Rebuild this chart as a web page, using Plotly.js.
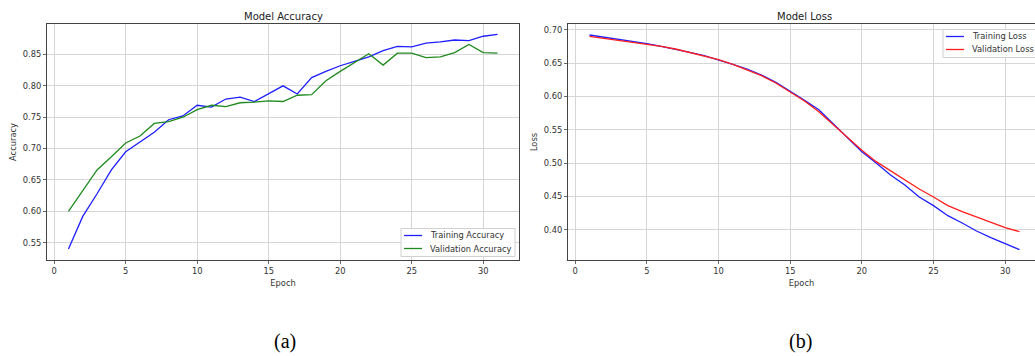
<!DOCTYPE html>
<html>
<head>
<meta charset="utf-8">
<script src="https://cdn.plot.ly/plotly-3.0.1.min.js"></script>
<style>
html,body{margin:0;padding:0;background:#fff;}
#chart{width:1035px;height:356px;}
</style>
</head>
<body>
<div id="chart"></div>
<script>
// ---- data ----
const epochs = [1,2,3,4,5,6,7,8,9,10,11,12,13,14,15,16,17,18,19,20,21,22,23,24,25,26,27,28,29,30,31];

const trainAcc = [0.540,0.592,0.628,0.666,0.695,0.711,0.726,0.746,0.752,0.769,0.766,0.779,0.782,0.775,0.788,0.800,0.787,0.813,0.823,0.832,0.839,0.846,0.856,0.863,0.862,0.868,0.870,0.873,0.872,0.879,0.882];
const valAcc   = [0.600,0.633,0.666,0.687,0.709,0.720,0.740,0.743,0.750,0.762,0.769,0.767,0.773,0.774,0.776,0.775,0.785,0.786,0.808,0.823,0.837,0.851,0.833,0.852,0.852,0.845,0.846,0.853,0.866,0.853,0.852];

const trainLoss = [0.692,0.689,0.686,0.683,0.679,0.675,0.671,0.666,0.661,0.655,0.648,0.641,0.632,0.621,0.608,0.594,0.580,0.559,0.538,0.517,0.500,0.482,0.467,0.449,0.436,0.421,0.410,0.398,0.388,0.379,0.370];
const valLoss   = [0.690,0.687,0.685,0.682,0.679,0.675,0.671,0.666,0.661,0.655,0.648,0.640,0.631,0.620,0.607,0.593,0.577,0.558,0.538,0.519,0.502,0.488,0.475,0.461,0.449,0.436,0.427,0.419,0.412,0.403,0.397];

const xTicks = [0,5,10,15,20,25,30];
const accTicks = [0.55,0.60,0.65,0.70,0.75,0.80,0.85];
const lossTicks = [0.40,0.45,0.50,0.55,0.60,0.65,0.70];

const accNames = ['Training Accuracy', 'Validation Accuracy'];
const lossNames = ['Training Loss', 'Validation Loss'];

// ---- styling ----
const W = 1035, H = 356;
const px = x => x / W, py = y => (H - y) / H;
const FONT = 'DejaVu Sans, sans-serif';
const tickFont = {family: FONT, size: 8.3, color: '#333'};
const frame = '#444';
const grid = '#d6d6d6';
const BLUE = '#1f1fff', GREEN = '#1f8a1f', RED = '#ff1f1f';

function xAxis(domain, range, anchor) {
  return {
    domain: domain, range: range, anchor: anchor, automargin: false,
    tickmode: 'array', tickvals: xTicks, ticktext: xTicks.map(String),
    ticks: 'outside', ticklen: 3, tickwidth: 0.8, tickcolor: frame,
    showline: true, mirror: true, linecolor: frame, linewidth: 1,
    showgrid: true, gridcolor: grid, gridwidth: 1, zeroline: false,
    tickfont: tickFont,
    title: {text: 'Epoch', font: {family: FONT, size: 8.3, color: '#333'}, standoff: 5}
  };
}
function yAxis(range, ticks, title, anchor) {
  return {
    domain: [py(260), py(24)], range: range, anchor: anchor, automargin: false,
    tickmode: 'array', tickvals: ticks, ticktext: ticks.map(v => v.toFixed(2)),
    ticks: 'outside', ticklen: 3, tickwidth: 0.8, tickcolor: frame,
    showline: true, mirror: true, linecolor: frame, linewidth: 1,
    showgrid: true, gridcolor: grid, gridwidth: 1, zeroline: false,
    tickfont: tickFont,
    title: {text: title, font: {family: FONT, size: 8.3, color: '#333'}, standoff: 4}
  };
}

const traces = [
  {x: epochs, y: trainAcc, name: accNames[0], mode: 'lines', line: {color: BLUE, width: 1.3}, xaxis: 'x', yaxis: 'y'},
  {x: epochs, y: valAcc, name: accNames[1], mode: 'lines', line: {color: GREEN, width: 1.3}, xaxis: 'x', yaxis: 'y'},
  {x: epochs, y: trainLoss, name: lossNames[0], mode: 'lines', line: {color: BLUE, width: 1.3}, xaxis: 'x2', yaxis: 'y2'},
  {x: epochs, y: valLoss, name: lossNames[1], mode: 'lines', line: {color: RED, width: 1.3}, xaxis: 'x2', yaxis: 'y2'}
];

// hand-drawn legends (matplotlib-style compact boxes)
const shapes = [];
const annotations = [];
function legendBox(x0, x1, y0, y1, names, colors) {
  shapes.push({type: 'rect', xref: 'paper', yref: 'paper', x0: px(x0), x1: px(x1), y0: py(y1), y1: py(y0),
    fillcolor: 'rgba(255,255,255,0.85)', line: {color: '#d0d0d0', width: 1}, layer: 'above'});
  names.forEach((n, i) => {
    const yy = y0 + 7 + i * 13;
    shapes.push({type: 'line', xref: 'paper', yref: 'paper', x0: px(x0 + 3), x1: px(x0 + 21), y0: py(yy), y1: py(yy),
      line: {color: colors[i], width: 1.3}, layer: 'above'});
    annotations.push({text: n, xref: 'paper', yref: 'paper', x: px(x0 + 27), y: py(yy), xanchor: 'left', yanchor: 'middle',
      showarrow: false, font: {family: FONT, size: 8.3, color: '#333'}});
  });
}
legendBox(401, 515, 228.5, 256.5, accNames, [BLUE, GREEN]);
legendBox(943, 1040, 29.5, 57.5, lossNames, [BLUE, RED]);

annotations.push(
  {text: 'Model Accuracy', xref: 'paper', yref: 'paper', x: px(283), y: py(16), xanchor: 'center', yanchor: 'middle', showarrow: false, font: {family: FONT, size: 10, color: '#222'}},
  {text: 'Model Loss', xref: 'paper', yref: 'paper', x: px(804), y: py(16), xanchor: 'center', yanchor: 'middle', showarrow: false, font: {family: FONT, size: 10, color: '#222'}},
  {text: '(a)', xref: 'paper', yref: 'paper', x: px(285), y: py(341), xanchor: 'center', yanchor: 'middle', showarrow: false, font: {family: 'Liberation Serif, serif', size: 20, color: '#000'}},
  {text: '(b)', xref: 'paper', yref: 'paper', x: px(800), y: py(341), xanchor: 'center', yanchor: 'middle', showarrow: false, font: {family: 'Liberation Serif, serif', size: 20, color: '#000'}}
);

const layout = {
  width: W, height: H,
  margin: {l: 0, r: 0, t: 0, b: 0, autoexpand: false},
  paper_bgcolor: '#fff', plot_bgcolor: '#fff',
  font: {family: FONT, color: '#333'},
  showlegend: false,
  xaxis: xAxis([px(47), px(519)], [-0.5, 32.5], 'y'),
  yaxis: yAxis([0.5225, 0.8985], accTicks, 'Accuracy', 'x'),
  xaxis2: xAxis([px(568), 1], [-0.5, 32.08], 'y2'),
  yaxis2: yAxis([0.3545, 0.7085], lossTicks, 'Loss', 'x2'),
  shapes: shapes,
  annotations: annotations
};

Plotly.newPlot('chart', traces, layout, {displayModeBar: false, staticPlot: true});
</script>
</body>
</html>
